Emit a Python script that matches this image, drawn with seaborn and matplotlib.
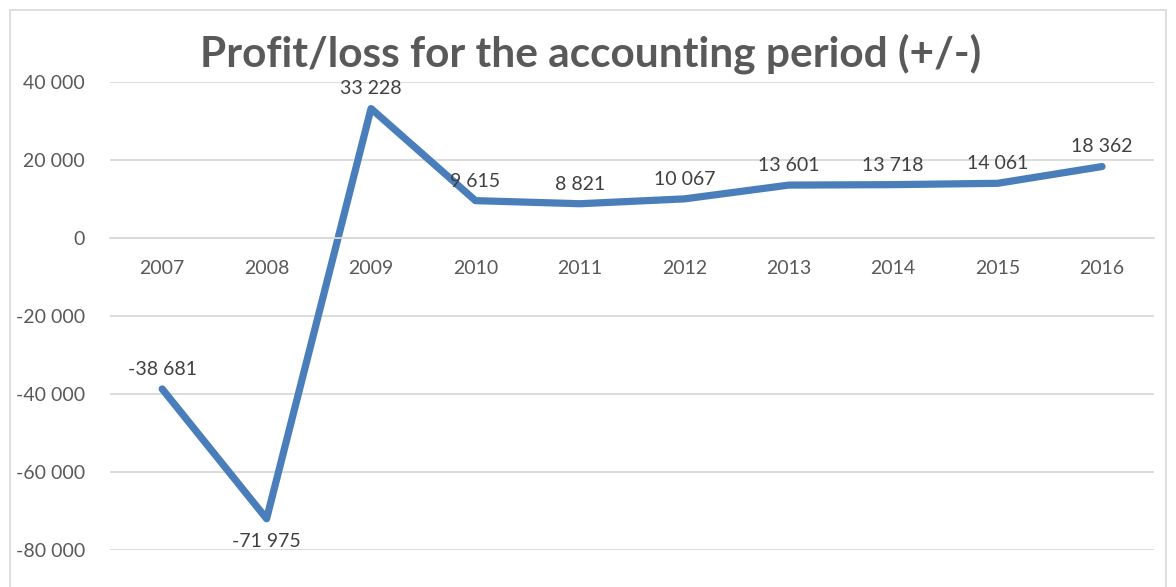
import matplotlib
matplotlib.use("Agg")
import matplotlib.pyplot as plt
from matplotlib.patches import Rectangle
import seaborn as sns
import pandas as pd

years = ["2007", "2008", "2009", "2010", "2011", "2012", "2013", "2014", "2015", "2016"]
profit = [-38681, -71975, 33228, 9615, 8821, 10067, 13601, 13718, 14061, 18362]
y_ticks = [-80000, -60000, -40000, -20000, 0, 20000, 40000]


def fmt(v):
    return f"{v:,}".replace(",", " ")


sns.set_theme(style="white")
plt.rcParams["font.family"] = ["Lato", "DejaVu Sans"]

df = pd.DataFrame({"year": years, "profit": profit})

fig = plt.figure(figsize=(11.76, 5.87), dpi=100)
ax = fig.add_axes([0.0935, 0.063, 0.888, 0.797])

sns.lineplot(data=df, x="year", y="profit", ax=ax, color="#4a7ebb",
             linewidth=5.2, sort=False)
ax.lines[0].set_solid_capstyle("round")
ax.lines[0].set_solid_joinstyle("round")

ax.set_xlim(-0.5, len(years) - 0.5)
ax.set_ylim(-80000, 40000)
ax.set_yticks(y_ticks)
ax.set_yticklabels([fmt(t) for t in y_ticks])
ax.yaxis.grid(True, color="#d9d9d9", linewidth=1.3)
ax.set_axisbelow(True)
ax.set_xlabel("")
ax.set_ylabel("")

for s in ["left", "right", "top"]:
    ax.spines[s].set_visible(False)
ax.spines["bottom"].set_position(("data", 0))
ax.spines["bottom"].set_color("#d9d9d9")
ax.spines["bottom"].set_linewidth(1.3)
ax.tick_params(axis="x", length=0, pad=16, labelsize=14, labelcolor="#595959")
ax.tick_params(axis="y", length=0, pad=18, labelsize=14, labelcolor="#595959")

for i, v in enumerate(profit):
    if v == min(profit):
        ax.annotate(fmt(v), (i, v), xytext=(0, -10), textcoords="offset points",
                    ha="center", va="top", fontsize=14, color="#404040")
    else:
        ax.annotate(fmt(v), (i, v), xytext=(0, 8), textcoords="offset points",
                    ha="center", va="bottom", fontsize=14, color="#404040")

fig.text(0.502, 0.908, "Profit/loss for the accounting period (+/-)",
         ha="center", va="center", fontsize=30.5, fontweight="bold", color="#595959")

fig.patches.append(Rectangle((10 / 1176, -0.01), 1156 / 1176, 1 - 10 / 587 + 0.01,
                             transform=fig.transFigure, fill=False,
                             edgecolor="#d9d9d9", linewidth=1.2))

fig.savefig("out.png", dpi=100)
